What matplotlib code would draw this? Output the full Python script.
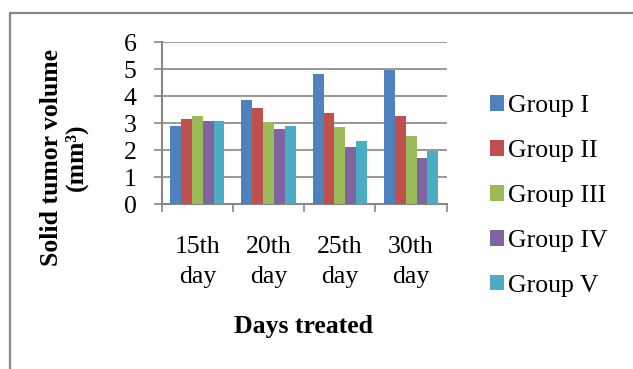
import matplotlib
matplotlib.use('Agg')
import matplotlib.pyplot as plt
from matplotlib.lines import Line2D
import numpy as np

# data
days = ['15th\nday', '20th\nday', '25th\nday', '30th\nday']
groups = ['Group I', 'Group II', 'Group III', 'Group IV', 'Group V']
group_1 = [2.91, 3.86, 4.84, 4.97]
group_2 = [3.15, 3.57, 3.38, 3.27]
group_3 = [3.26, 3.04, 2.86, 2.54]
group_4 = [3.07, 2.79, 2.12, 1.73]
group_5 = [3.10, 2.91, 2.34, 1.97]
colors = ['#4F81BD', '#C0504D', '#9BBB59', '#8064A2', '#4BACC6']

plt.rcParams['font.family'] = 'Liberation Serif'
plt.rcParams['font.size'] = 18.5

W, H = 633, 369
fig = plt.figure(figsize=(W / 100, H / 100), dpi=100)
ax = fig.add_axes([161.7 / W, 1 - 204.3 / H, 285 / W, 162 / H])

grey = '#868686'
x = np.arange(len(days))
bw = 0.1525
series = [group_1, group_2, group_3, group_4, group_5]
for i, vals in enumerate(series):
    ax.bar(x + (i - 2) * bw, vals, bw, color=colors[i], label=groups[i], zorder=3)

ax.set_xlim(-0.5, len(days) - 0.5)
ax.set_ylim(0, 6)
ax.set_yticks(range(7))
ax.grid(axis='y', color=grey, linewidth=1.2, zorder=0)
ax.set_axisbelow(True)

# category boundary ticks, labels in the middle
ax.set_xticks(np.arange(len(days) + 1) - 0.5)
ax.set_xticklabels([])
ax.set_xticks(x, minor=True)
ax.set_xticklabels(days, minor=True, linespacing=1.45)
ax.tick_params(axis='x', which='major', length=6, width=1.2, color=grey)
ax.tick_params(axis='x', which='minor', length=0, pad=23)
ax.tick_params(axis='y', length=6, width=1.2, color=grey, pad=12)

for s in ['top', 'right']:
    ax.spines[s].set_visible(False)
for s in ['left', 'bottom']:
    ax.spines[s].set_color(grey)
    ax.spines[s].set_linewidth(1.5)

fig.text(232 / W + 72 / W, 1 - 327 / H, 'Days treated', fontweight='bold',
         ha='center', va='center')
fig.text(64 / W, 1 - 157 / H, 'Solid tumor volume\n(mm³)', fontweight='bold',
         rotation=90, ha='center', va='center', multialignment='center',
         linespacing=1.05)

leg = ax.legend(loc='center left', bbox_to_anchor=(480 / W, 1 - 196 / H),
                bbox_transform=fig.transFigure, frameon=False,
                handlelength=0.55, handleheight=0.55, handletextpad=0.15,
                labelspacing=0.89, borderaxespad=0)

# outer frame
fig.add_artist(Line2D([10 / W, 10 / W, 1], [0, 1 - 13 / H, 1 - 13 / H],
                      color=grey, linewidth=1.6, transform=fig.transFigure))

fig.savefig('out.png', dpi=100)
